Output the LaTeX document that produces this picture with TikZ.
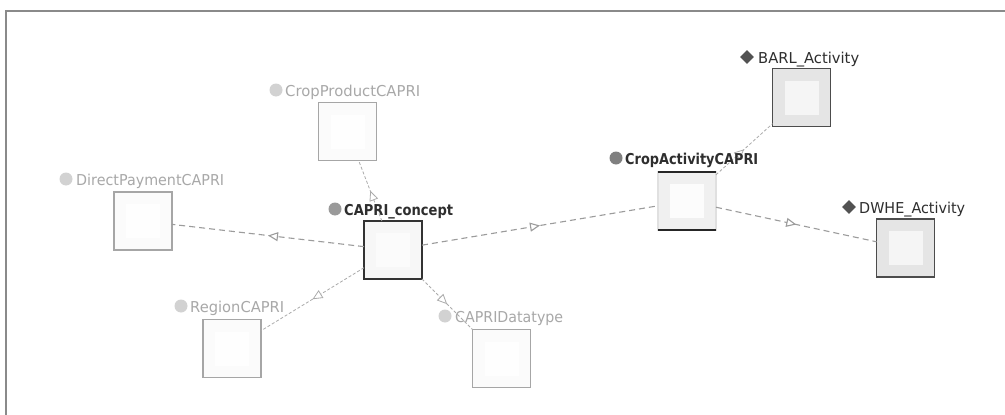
\documentclass[tikz,border=0pt]{standalone}
\usepackage{fontspec}
\setmainfont{DejaVu Sans}
\usepackage{graphicx}
\usetikzlibrary{arrows.meta,decorations.markings,shapes.geometric}
\definecolor{framegray}{HTML}{8A8A8A}
\definecolor{lighttext}{HTML}{A8A8A8}
\definecolor{lightdot}{HTML}{D2D2D2}
\definecolor{darktext}{HTML}{2E2E2E}
\definecolor{middot}{HTML}{9A9A9A}
\definecolor{edgegray}{HTML}{9C9C9C}
\definecolor{thingray}{HTML}{ABABAB}
\newcommand\lbltxt[2]{\resizebox{#1pt}{\height}{#2}}
\begin{document}
\begin{tikzpicture}[x=1pt,y=-1pt,
  boxbase/.style={rectangle, minimum size=58pt, inner sep=0pt, outer sep=0pt},
  plainbox/.style={boxbase, draw=black!35, line width=1.4pt, fill=black!1.5},
  conceptbox/.style={boxbase, draw=black!80, line width=2pt, fill=black!3},
  activitybox/.style={boxbase, draw=black!12, line width=1.4pt, fill=black!6},
  leafbox/.style={boxbase, draw=black!70, line width=1.6pt, fill=black!10},
  lbl/.style={anchor=base west, inner sep=0pt, font=\fontsize{15}{15}\selectfont},
  lightlbl/.style={lbl, text=lighttext},
  darklbl/.style={lbl, text=darktext},
  dotlight/.style={circle, fill=lightdot, minimum size=13pt, inner sep=0pt},
  dotmid/.style={circle, fill=middot, minimum size=13pt, inner sep=0pt},
  dia/.style={diamond, fill=black!68, minimum size=14pt, inner sep=0pt},
  midarrow/.style={postaction={decorate}, decoration={markings,
     mark=at position 0.5 with {\arrow{Triangle[fill=white,length=10pt,width=9pt]}}}},
  mainedge/.style={draw=edgegray, line width=1.1pt, dash pattern=on 6pt off 4pt, midarrow},
  thinedge/.style={draw=thingray, line width=0.8pt, dash pattern=on 3pt off 2pt, midarrow}
]
\useasboundingbox (0,0) rectangle (1005,415);
\fill[white] (0,0) rectangle (1005,415);
\draw[framegray, line width=2pt] (6,415) -- (6,11) -- (1005,11);

% boxes
\node[plainbox] (cp) at (347.5,131.5) {};
\node[plainbox] (dp) at (143,221) {};
\node[conceptbox] (cc) at (393,250) {};
\node[plainbox] (rg) at (232,348.5) {};
\node[plainbox] (dt) at (501.5,358.5) {};
\node[activitybox] (ca) at (687,201) {};
\node[leafbox] (ba) at (801.5,97.5) {};
\node[leafbox] (dw) at (905.5,248) {};

% inner squares
\foreach \n/\c in {cp/black!0.5, dp/black!0.5, rg/black!0.5, dt/black!0.5, cc/black!1.5, ca/black!1, ba/black!4, dw/black!4}{
  \fill[\c] ([xshift=-17pt,yshift=-17pt]\n.center) rectangle ([xshift=17pt,yshift=17pt]\n.center);
}
\draw[black!85, line width=2.6pt] (ca.north west) -- (ca.north east);
\draw[black!85, line width=2.6pt] (ca.south west) -- (ca.south east);

% edges
\draw[mainedge] (cc) -- (ca);
\draw[mainedge] (cc) -- (dp);
\draw[mainedge] (ca) -- (dw);
\draw[thinedge] (cc) -- (cp);
\draw[thinedge] (cc) -- (rg);
\draw[thinedge] (cc) -- (dt);
\draw[thinedge] (ca) -- (ba);

% labels
\node[dotlight] (cpd) at (276,90) {};
\node[lightlbl] (cpl) at (285,96.5) {\lbltxt{135}{CropProductCAPRI}};
\node[dotlight] (dpd) at (66,179) {};
\node[lightlbl] (dpl) at (76,185.5) {\lbltxt{148}{DirectPaymentCAPRI}};
\node[dotmid] (ccd) at (335,209) {};
\node[darklbl, font=\fontsize{15}{15}\selectfont\bfseries] (ccl) at (344,215.5) {\lbltxt{109}{CAPRI\_concept}};
\node[dotlight] (rgd) at (181,306) {};
\node[lightlbl] (rgl) at (190,312.5) {\lbltxt{94}{RegionCAPRI}};
\node[dotlight] (dtd) at (445,316) {};
\node[lightlbl] (dtl) at (455,322.5) {\lbltxt{108}{CAPRIDatatype}};
\node[dotmid, fill=black!50] (cad) at (616,158) {};
\node[darklbl, font=\fontsize{15}{15}\selectfont\bfseries] (cal) at (625,164.5) {\lbltxt{133}{CropActivityCAPRI}};
\node[dia] (bad) at (747,57) {};
\node[darklbl] (bal) at (758,63.5) {\lbltxt{101}{BARL\_Activity}};
\node[dia] (dwd) at (849,207) {};
\node[darklbl] (dwl) at (859,213.5) {\lbltxt{106}{DWHE\_Activity}};
\end{tikzpicture}
\end{document}
